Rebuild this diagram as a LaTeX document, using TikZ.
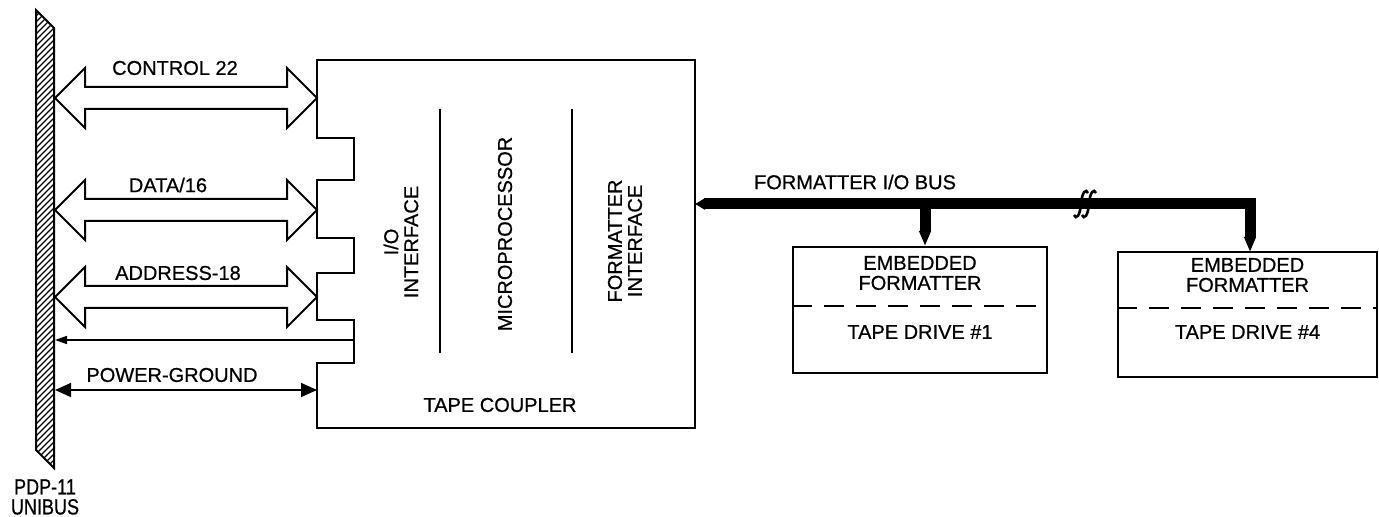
\documentclass[tikz,border=0pt]{standalone}
\usepackage{fontspec}
\setmainfont{Liberation Sans}[FakeBold=0.7]
\usetikzlibrary{arrows.meta,calc}
\newcommand\hollowarrow[2]{%
  \draw[bigarr] (#1) -- ++(30,-30) -- ++(0,19) -- ($(#2)+(-30,-11)$) -- ++(0,-19) -- (#2)
    -- ++(-30,30) -- ++(0,-19) -- ($(#1)+(30,11)$) -- ++(0,19) -- cycle;}
\newcommand\breakmark[1]{%
  \draw[line width=1.3pt] ($(#1)+(-7,11)$) .. controls ($(#1)+(-5,16)$) and ($(#1)+(-1,12)$) .. (#1)
    .. controls ($(#1)+(1,-12)$) and ($(#1)+(5,-16)$) .. ($(#1)+(7,-11)$);}
\begin{document}
\begin{tikzpicture}[x=0.5pt,y=-0.5pt,
  lbl/.style={font=\fontsize{10pt}{10pt}\selectfont, inner sep=0pt, align=center},
  boxline/.style={draw, line width=1pt, line join=miter},
  bigarr/.style={draw, line width=1pt, line join=miter, fill=white},
  thinarr/.style={line width=0.75pt},
  busline/.style={line width=5.5pt, line join=miter},
  tapebox/.style={draw, line width=1pt, inner sep=0pt},
]
\useasboundingbox (0,0) rectangle (1379,517);

% ---- UNIBUS bar
\begin{scope}
  \clip (36,10) -- (54,28) -- (54,468) -- (36,450) -- cycle;
  \foreach \y in {10,16,...,500} \draw[line width=0.55pt] (36,\y) -- (54,\y-18);
\end{scope}
\draw[line width=1pt, line join=miter] (36,10) -- (54,28) -- (54,468) -- (36,450) -- cycle;
\node[inner sep=0pt, align=center, font=\fontsize{11pt}{10pt}\selectfont] (pdp) at (45,497)
  {\scalebox{0.82}[1]{PDP-11}\\\scalebox{0.82}[1]{UNIBUS}};

% bar-side connection points
\coordinate (barC) at (55,98);
\coordinate (barD) at (55,210);
\coordinate (barA) at (55,297);
\coordinate (barT) at (55,340);
\coordinate (barP) at (55,390);

% ---- Tape coupler
\draw[boxline] (317,60) -- (695,60) -- (695,428) -- (317,428) -- (317,363) -- (354,363)
  -- (354,320) -- (317,320) -- (317,273) -- (354,273) -- (354,238) -- (317,238)
  -- (317,180) -- (354,180) -- (354,138) -- (317,138) -- cycle;
\coordinate (cplC) at (317,98);
\coordinate (cplD) at (317,210);
\coordinate (cplA) at (317,297);
\coordinate (cplT) at (354,340);
\coordinate (cplP) at (317,390);
\coordinate (cplR) at (695,204);

\coordinate (div1a) at (440,109); \coordinate (div1b) at (440,353);
\coordinate (div2a) at (572,109); \coordinate (div2b) at (572,353);
\draw[line width=1pt] (div1a) -- (div1b);
\draw[line width=1pt] (div2a) -- (div2b);

\node[lbl, rotate=90] (ioif) at (401,242) {I/O\\INTERFACE};
\node[lbl, rotate=90] (mp) at (505,234) {MICROPROCESSOR};
\node[lbl, rotate=90] (fmif) at (625,241) {FORMATTER\\INTERFACE};
\node[lbl] (tc) at (500,405) {TAPE COUPLER};

% ---- bus arrows
\hollowarrow{barC}{cplC}
\hollowarrow{barD}{cplD}
\hollowarrow{barA}{cplA}
\node[lbl] (lc) at (175,68) {CONTROL 22};
\node[lbl] (ld) at (168,185) {DATA/16};
\node[lbl] (la) at (178,273) {ADDRESS-18};
\node[lbl] (lp) at (172,375) {POWER-GROUND};

\draw[thinarr, -{Triangle[length=6pt,width=4pt]}] (cplT) -- (barT);
\draw[thinarr, {Triangle[length=8pt,width=7pt]}-{Triangle[length=8pt,width=7pt]}] (barP) -- (cplP);

% ---- tape drives
\node[tapebox, minimum width=127pt, minimum height=63pt] (td1) at (920,310) {};
\node[tapebox, minimum width=129.5pt, minimum height=62.5pt] (td4) at (1247.5,314.5) {};
\draw[line width=1pt, dash pattern=on 10pt off 6pt] ($(td1.west)+(0,-4)$) -- ($(td1.east)+(0,-4)$);
\draw[line width=1pt, dash pattern=on 10pt off 6pt] ($(td4.west)+(0,-6.5)$) -- ($(td4.east)+(0,-6.5)$);
\node[lbl] at ($(td1.north)+(0,27)$) {EMBEDDED\\FORMATTER};
\node[lbl] at ($(td1.north)+(0,86)$) {TAPE DRIVE \#1};
\node[lbl] at ($(td4.north)+(0,24)$) {EMBEDDED\\FORMATTER};
\node[lbl] at ($(td4.north)+(0,81)$) {TAPE DRIVE \#4};

% ---- formatter I/O bus
\coordinate (drop1) at (925,204);
\coordinate (busend) at (1250,252);
\draw[busline, {Triangle[length=5pt,width=5.5pt]}-{Triangle[length=7.5pt,width=5.5pt]}] (cplR) -| (busend);
\draw[busline, -{Triangle[length=7.5pt,width=5.5pt]}] (drop1) -- (drop1 |- td1.north);
\coordinate (brk) at (1081,204);
\coordinate (brkb) at (1089,204);
\breakmark{brk}
\breakmark{brkb}
\node[lbl] (fbus) at (855,182) {FORMATTER I/O BUS};
\end{tikzpicture}
\end{document}
